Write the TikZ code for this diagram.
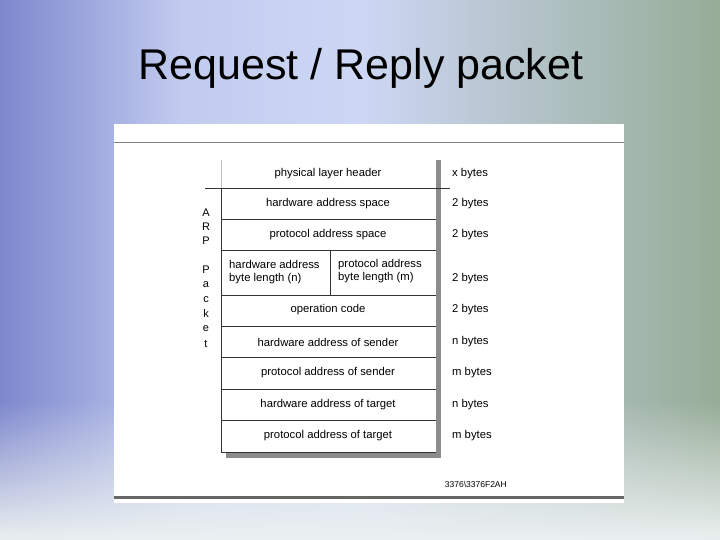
\documentclass[tikz,border=0pt]{standalone}
\usepackage{fontspec}
\usetikzlibrary{fadings}
\setmainfont{Liberation Sans}
\begin{document}
\begin{tikzpicture}[x=1pt,y=-1pt,
  lbl/.style={font=\fontsize{11.3}{13.5}\selectfont, inner sep=0pt},
  side/.style={font=\fontsize{11.3}{13.5}\selectfont, inner sep=0pt, anchor=west},
  letter/.style={font=\fontsize{11}{13}\selectfont, inner sep=0pt},
  rule/.style={draw=black!80, line width=0.8pt}]
\useasboundingbox (0,0) rectangle (720,540);
\definecolor{bgA}{RGB}{125,135,205}
\definecolor{bgB}{RGB}{205,215,245}
\definecolor{bgC}{RGB}{150,172,150}
\definecolor{bgD}{RGB}{235,240,240}
\shade[left color=bgA, right color=bgB, middle color=bgB!85!bgA] (0,0) rectangle (360,540);
\shade[left color=bgB, right color=bgC] (360,0) rectangle (720,540);
\fill[bgD, path fading=north] (0,400) rectangle (720,540);
\fill[white] (114,124) rectangle (624,503);
\draw[black!50, line width=0.5pt] (114,142) -- (624,142);
\fill[black!60] (114,496) rectangle (624,499);
\node[font=\fontsize{43}{50}\selectfont, inner sep=0pt] (title) at (361,68) {Request / Reply packet};
% shadow
\fill[black!45] (436,160) rectangle (441,458);
\fill[black!45] (226,452) rectangle (441,458);
% box
\draw[black!25] (221,160) -- (221,188);
\draw[rule] (221,188) -- (221,452) -- (436,452);
\draw[rule] (205,188) -- (450,188);
\foreach \y in {219,250,295,326,357,389,420} \draw[rule] (221,\y) -- (436,\y);
\draw[rule] (330,250) -- (330,295);
\node[lbl] (r1) at (328,174) {physical layer header};
\node[lbl] (r2) at (328,204) {hardware address space};
\node[lbl] (r3) at (328,235) {protocol address space};
\node[lbl, align=left, anchor=west] (r4a) at (229,272) {hardware address\\byte length (n)};
\node[lbl, align=left, anchor=west] (r4b) at (338,271) {protocol address\\byte length (m)};
\node[lbl] (r5) at (328,310) {operation code};
\node[lbl] (r6) at (328,342) {hardware address of sender};
\node[lbl] (r7) at (328,373) {protocol address of sender};
\node[lbl] (r8) at (328,405) {hardware address of target};
\node[lbl] (r9) at (328,436) {protocol address of target};
\node[side] (s1) at (452,174) {x bytes};
\node[side] (s2) at (452,204) {2 bytes};
\node[side] (s3) at (452,235) {2 bytes};
\node[side] (s4) at (452,279) {2 bytes};
\node[side] (s5) at (452,310) {2 bytes};
\node[side] (s6) at (452,342) {n bytes};
\node[side] (s7) at (452,373) {m bytes};
\node[side] (s8) at (452,405) {n bytes};
\node[side] (s9) at (452,436) {m bytes};
\foreach \c/\y [count=\i] in {A/213,R/227,P/241,P/270,a/285,c/300,k/314,e/329,t/344}
  \node[letter] (l\i) at (206,\y) {\c};
\node[font=\fontsize{8.5}{10}\selectfont, inner sep=0pt, anchor=east] (code) at (507,484) {3376\textbackslash 3376F2AH};
\end{tikzpicture}
\end{document}
